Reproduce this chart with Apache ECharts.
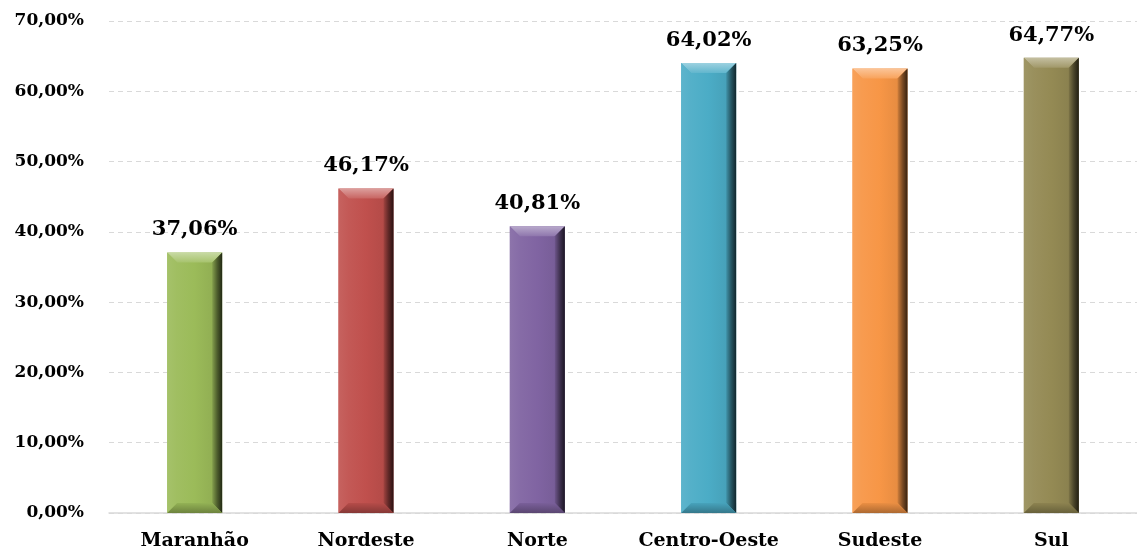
<!DOCTYPE html>
<html>
<head>
<meta charset="utf-8">
<script src="https://cdn.jsdelivr.net/npm/echarts@6/dist/echarts.min.js"></script>
<style>
  html, body { margin: 0; padding: 0; background: #fff; }
  #chart { width: 1137px; height: 553px; }
</style>
</head>
<body>
<div id="chart"></div>
<script>
// Regions and their share (%)
const categories = ['Maranhão', 'Nordeste', 'Norte', 'Centro-Oeste', 'Sudeste', 'Sul'];
const values = [37.06, 46.17, 40.81, 64.02, 63.25, 64.77];
const barColors = ['#9BBB59', '#C0504D', '#8064A2', '#4BACC6', '#F79646', '#948A54'];
const yTicks = [0, 10, 20, 30, 40, 50, 60, 70];

const FONT = '"DejaVu Serif", "Liberation Serif", serif';
const BAR_W = 55;
const BEVEL = 10;

function fmt(v) {
  return v.toFixed(2).replace('.', ',') + '%';
}

// mix a hex colour towards white (amt > 0) or black (amt < 0)
function shade(hex, amt) {
  const n = parseInt(hex.slice(1), 16);
  let r = (n >> 16) & 255, g = (n >> 8) & 255, b = n & 255;
  const t = amt > 0 ? 255 : 0, p = Math.abs(amt);
  r = Math.round(r + (t - r) * p);
  g = Math.round(g + (t - g) * p);
  b = Math.round(b + (t - b) * p);
  return 'rgb(' + r + ',' + g + ',' + b + ')';
}

const chart = echarts.init(document.getElementById('chart'), null, { renderer: 'canvas' });

// Bevelled edges drawn over each bar body
function renderBevel(params, api) {
  const idx = api.value(0);
  const top = api.coord([idx, api.value(1)]);
  const base = api.coord([idx, 0]);
  const x0 = top[0] - BAR_W / 2, x1 = top[0] + BAR_W / 2;
  const yt = top[1], yb = base[1];
  const b = BEVEL;
  const c = barColors[idx];
  const lg = (x, y, x2, y2, stops) => new echarts.graphic.LinearGradient(x, y, x2, y2,
    stops.map((s, k) => ({ offset: k / (stops.length - 1), color: s })));
  return {
    type: 'group',
    children: [
      { type: 'polygon', shape: { points: [[x0, yt], [x1, yt], [x1 - b, yt + b], [x0 + b, yt + b]] },
        style: { fill: lg(0, 0, 0, 1, [shade(c, 0.45), shade(c, 0.12)]) } },
      { type: 'polygon', shape: { points: [[x0, yt], [x0 + b, yt + b], [x0 + b, yb - b], [x0, yb]] },
        style: { fill: lg(0, 0, 1, 0, [shade(c, 0.1), shade(c, 0.05)]) } },
      { type: 'polygon', shape: { points: [[x1, yt], [x1, yb], [x1 - b, yb - b], [x1 - b, yt + b]] },
        style: { fill: lg(0, 0, 1, 0, [shade(c, -0.15), shade(c, -0.5), shade(c, -0.78)]) } },
      { type: 'polygon', shape: { points: [[x0, yb], [x0 + b, yb - b], [x1 - b, yb - b], [x1, yb]] },
        style: { fill: lg(0, 0, 0, 1, [shade(c, -0.05), shade(c, -0.3)]) } }
    ]
  };
}

chart.setOption({
  animation: false,
  backgroundColor: '#ffffff',
  grid: { left: 109, right: 0, top: 21, height: 492, containLabel: false },
  xAxis: {
    type: 'category',
    data: categories,
    axisLine: { show: true, lineStyle: { color: '#d9d9d9', width: 1.5 } },
    axisTick: { show: false },
    axisLabel: { interval: 0, color: '#000', fontFamily: FONT, fontWeight: 'bold', fontSize: 19, margin: 19 }
  },
  yAxis: {
    type: 'value',
    min: 0, max: 70, interval: 10,
    axisLine: { show: false },
    axisTick: { show: false },
    splitLine: { show: true, lineStyle: { color: '#d9d9d9', type: [5, 4], width: 1 } },
    axisLabel: {
      color: '#000', fontFamily: FONT, fontWeight: 'bold', fontSize: 17, margin: 25,
      formatter: v => yTicks.includes(v) ? fmt(v) : ''
    }
  },
  series: [
    {
      type: 'bar',
      barWidth: BAR_W,
      data: values.map((v, i) => ({
        value: v,
        itemStyle: {
          color: new echarts.graphic.LinearGradient(0, 0, 1, 0, [
            { offset: 0, color: shade(barColors[i], 0.08) },
            { offset: 0.5, color: barColors[i] },
            { offset: 1, color: shade(barColors[i], -0.1) }
          ])
        }
      })),
      label: {
        show: true, position: 'top', distance: 12,
        color: '#000', fontFamily: FONT, fontWeight: 'bold', fontSize: 21,
        formatter: p => fmt(p.value)
      },
      z: 2
    },
    {
      type: 'custom',
      data: values.map((v, i) => [i, v]),
      renderItem: renderBevel,
      z: 3,
      silent: true
    }
  ]
});
</script>
</body>
</html>
